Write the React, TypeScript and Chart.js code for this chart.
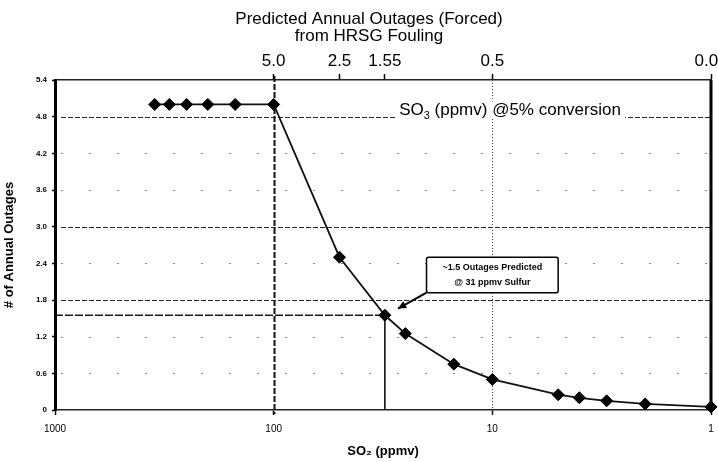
import React, { useEffect, useRef } from "react";
import { Chart, registerables } from "chart.js";

Chart.register(...registerables);

// ---- data ----
const soxPpmv = [350, 300, 250, 200, 150, 100, 50, 31, 25, 15, 10, 5, 4, 3, 2, 1];
const annualOutages = [5.0, 5.0, 5.0, 5.0, 5.0, 5.0, 2.5, 1.55, 1.25, 0.75, 0.5, 0.25, 0.2, 0.15, 0.1, 0.05];

const bottomTickValues = [1000, 100, 10, 1];
const bottomTickLabels = ["1000", "100", "10", "1"];

const topTickValues = [100, 50, 31, 10, 1];
const topTickLabels = ["5.0", "2.5", "1.55", "0.5", "0.05"];

const yTickValues = [0, 0.6, 1.2, 1.8, 2.4, 3.0, 3.6, 4.2, 4.8, 5.4];
const yTickLabels = ["0", "0.6", "1.2", "1.8", "2.4", "3.0", "3.6", "4.2", "4.8", "5.4"];
const strongGridY = [4.8, 3.0, 1.8];

const strongGridX = [100];
const faintGridX = [10];

const highlightPoint = { x: 31, y: 1.55 };

const topTitleLines = ["Predicted Annual Outages (Forced)", "from HRSG Fouling"];
const so3Label = { x: 8.3, y: 4.9 };
const calloutBox = { x1: 20, x2: 5, y1: 2.5, y2: 1.92 };
const calloutTip = { x: 27, y: 1.66 };
const calloutLines = ["~1.5 Outages Predicted", "@ 31 ppmv Sulfur"];

const FONT = "'Liberation Sans', Arial, sans-serif";

const decorPlugin = {
  id: "decor",
  beforeDatasetsDraw(chart: any) {
    const { ctx, chartArea, scales } = chart;
    const { left, right, top, bottom } = chartArea;
    const x = scales.x;
    const y = scales.y;
    ctx.save();
    yTickValues.forEach((v) => {
      if (v === 0 || v === 5.4) return;
      const py = Math.round(y.getPixelForValue(v)) + 0.5;
      ctx.beginPath();
      if (strongGridY.includes(v)) {
        ctx.strokeStyle = "#2a2a2a";
        ctx.lineWidth = 1.2;
        ctx.setLineDash([5, 2]);
      } else {
        ctx.strokeStyle = "#888";
        ctx.lineWidth = 1;
        ctx.setLineDash([2, 26]);
      }
      ctx.moveTo(left + 6, py);
      ctx.lineTo(right, py);
      ctx.stroke();
    });
    strongGridX.forEach((v) => {
      const px = Math.round(x.getPixelForValue(v)) + 0.5;
      ctx.beginPath();
      ctx.strokeStyle = "#111";
      ctx.lineWidth = 2;
      ctx.setLineDash([6, 2]);
      ctx.moveTo(px, top - 4);
      ctx.lineTo(px, bottom + 4);
      ctx.stroke();
    });
    faintGridX.forEach((v) => {
      const px = Math.round(x.getPixelForValue(v)) + 0.5;
      ctx.beginPath();
      ctx.strokeStyle = "#444";
      ctx.lineWidth = 1;
      ctx.setLineDash([1, 2]);
      ctx.moveTo(px, top);
      ctx.lineTo(px, bottom + 4);
      ctx.stroke();
    });
    const hx = x.getPixelForValue(highlightPoint.x);
    const hy = y.getPixelForValue(highlightPoint.y);
    ctx.beginPath();
    ctx.strokeStyle = "#1a1a1a";
    ctx.lineWidth = 1.5;
    ctx.setLineDash([8, 2]);
    ctx.moveTo(left, hy);
    ctx.lineTo(hx, hy);
    ctx.stroke();
    ctx.beginPath();
    ctx.setLineDash([]);
    ctx.lineWidth = 1.5;
    ctx.strokeStyle = "#000";
    ctx.moveTo(hx, hy);
    ctx.lineTo(hx, bottom);
    ctx.stroke();
    ctx.restore();
  },
  afterDatasetsDraw(chart: any) {
    const { ctx, chartArea, scales } = chart;
    const { right, top, bottom } = chartArea;
    const x = scales.x;
    const y = scales.y;
    ctx.save();
    ctx.beginPath();
    ctx.strokeStyle = "#000";
    ctx.lineWidth = 3;
    ctx.moveTo(right, top);
    ctx.lineTo(right, bottom);
    ctx.stroke();

    const cx = x.getPixelForValue(so3Label.x);
    const cy = y.getPixelForValue(so3Label.y);
    const big = `17px ${FONT}`;
    const small = `11px ${FONT}`;
    ctx.font = big;
    const w1 = ctx.measureText("SO").width;
    const w3 = ctx.measureText(" (ppmv) @5% conversion").width;
    ctx.font = small;
    const w2 = ctx.measureText("3").width;
    const total = w1 + w2 + w3;
    const sx = cx - total / 2;
    ctx.fillStyle = "#fff";
    ctx.fillRect(sx - 4, cy - 9, total + 8, 17);
    ctx.fillStyle = "#000";
    ctx.textBaseline = "middle";
    ctx.textAlign = "left";
    ctx.font = big;
    ctx.fillText("SO", sx, cy);
    ctx.font = small;
    ctx.fillText("3", sx + w1, cy + 5);
    ctx.font = big;
    ctx.fillText(" (ppmv) @5% conversion", sx + w1 + w2, cy);

    const bx1 = x.getPixelForValue(calloutBox.x1);
    const bx2 = x.getPixelForValue(calloutBox.x2);
    const by1 = y.getPixelForValue(calloutBox.y1);
    const by2 = y.getPixelForValue(calloutBox.y2);
    const tx = x.getPixelForValue(calloutTip.x);
    const ty = y.getPixelForValue(calloutTip.y);
    ctx.beginPath();
    ctx.strokeStyle = "#000";
    ctx.lineWidth = 2;
    ctx.moveTo(bx1, by2);
    ctx.lineTo(tx, ty);
    ctx.stroke();
    const ang = Math.atan2(ty - by2, tx - bx1);
    ctx.beginPath();
    ctx.fillStyle = "#000";
    ctx.moveTo(tx, ty);
    ctx.lineTo(tx - 9 * Math.cos(ang - 0.45), ty - 9 * Math.sin(ang - 0.45));
    ctx.lineTo(tx - 9 * Math.cos(ang + 0.45), ty - 9 * Math.sin(ang + 0.45));
    ctx.closePath();
    ctx.fill();
    ctx.beginPath();
    ctx.fillStyle = "#fff";
    ctx.strokeStyle = "#000";
    ctx.lineWidth = 1.5;
    const r = 2;
    ctx.moveTo(bx1 + r, by1);
    ctx.lineTo(bx2 - r, by1);
    ctx.quadraticCurveTo(bx2, by1, bx2, by1 + r);
    ctx.lineTo(bx2, by2 - r);
    ctx.quadraticCurveTo(bx2, by2, bx2 - r, by2);
    ctx.lineTo(bx1 + r, by2);
    ctx.quadraticCurveTo(bx1, by2, bx1, by2 - r);
    ctx.lineTo(bx1, by1 + r);
    ctx.quadraticCurveTo(bx1, by1, bx1 + r, by1);
    ctx.closePath();
    ctx.fill();
    ctx.stroke();
    ctx.fillStyle = "#000";
    ctx.font = `bold 9px ${FONT}`;
    ctx.textAlign = "center";
    const bcx = (bx1 + bx2) / 2;
    const bh = by2 - by1;
    calloutLines.forEach((t, i) => {
      ctx.fillText(t, bcx, by1 + bh * (0.3 + 0.4 * i));
    });

    ctx.font = `17px ${FONT}`;
    ctx.textAlign = "center";
    ctx.textBaseline = "middle";
    topTitleLines.forEach((t, i) => {
      ctx.fillText(t, 369, 19 + i * 17);
    });
    ctx.restore();
  },
};

export default function App() {
  const ref = useRef<HTMLCanvasElement | null>(null);

  useEffect(() => {
    if (!ref.current) return;
    const points = soxPpmv.map((v, i) => ({ x: v, y: annualOutages[i] }));
    const chart = new Chart(ref.current, {
      type: "line",
      data: {
        datasets: [
          {
            label: "Annual Outages",
            data: points,
            borderColor: "#111",
            borderWidth: 1.8,
            pointStyle: "rectRot",
            pointRadius: 6,
            pointBackgroundColor: "#000",
            pointBorderColor: "#000",
            pointBorderWidth: 1,
            tension: 0,
            clip: false as any,
          },
        ],
      },
      options: {
        responsive: false,
        animation: false,
        devicePixelRatio: 1,
        layout: { padding: { left: 0, right: 4, top: 0, bottom: 0 } },
        plugins: {
          legend: { display: false },
          tooltip: { enabled: false },
          title: { display: false },
        },
        scales: {
          x: {
            type: "logarithmic",
            position: "bottom",
            min: 1,
            max: 1000,
            reverse: true,
            afterBuildTicks: (s: any) => {
              s.ticks = bottomTickValues.map((v) => ({ value: v }));
            },
            afterFit: (s: any) => {
              s.height = 52;
              s.paddingLeft = 0;
              s.paddingRight = 0;
            },
            ticks: {
              autoSkip: false,
              maxRotation: 0,
              padding: 8,
              color: "#000",
              font: { size: 10, family: FONT },
              callback: (_v: any, i: number) => bottomTickLabels[i],
            },
            grid: { drawOnChartArea: false, drawTicks: true, tickLength: 5, tickColor: "#000", tickWidth: 1.5 },
            border: { display: true, color: "#222", width: 1.5 },
            title: {
              display: true,
              text: "SO\u2082 (ppmv)",
              color: "#000",
              font: { size: 13, weight: "bold", family: FONT },
              padding: { top: 0, bottom: 3 },
            },
          },
          x2: {
            type: "logarithmic",
            axis: "x",
            position: "top",
            min: 1,
            max: 1000,
            reverse: true,
            afterBuildTicks: (s: any) => {
              s.ticks = topTickValues.map((v) => ({ value: v }));
            },
            afterFit: (s: any) => {
              s.height = 80;
              s.paddingLeft = 0;
              s.paddingRight = 0;
            },
            ticks: {
              autoSkip: false,
              maxRotation: 0,
              padding: 2,
              color: "#000",
              font: { size: 17, family: FONT },
              callback: (_v: any, i: number) => topTickLabels[i],
            },
            grid: { drawOnChartArea: false, drawTicks: true, tickLength: 6, tickColor: "#000", tickWidth: 1.5 },
            border: { display: true, color: "#222", width: 1.5 },
          },
          y: {
            type: "linear",
            position: "left",
            min: 0,
            max: 5.4,
            afterBuildTicks: (s: any) => {
              s.ticks = yTickValues.map((v) => ({ value: v }));
            },
            afterFit: (s: any) => {
              s.width = 55;
              s.paddingTop = 0;
              s.paddingBottom = 0;
            },
            ticks: {
              padding: 5,
              color: "#000",
              font: { size: 8, weight: "bold", family: FONT },
              callback: (_v: any, i: number) => yTickLabels[i],
            },
            grid: { drawOnChartArea: false, drawTicks: true, tickLength: 3, tickColor: "#000", tickWidth: 1.5 },
            border: { display: true, color: "#000", width: 3 },
            title: {
              display: true,
              text: "# of Annual Outages",
              color: "#000",
              font: { size: 13, weight: "bold", family: FONT },
              padding: { top: 2, bottom: 0 },
            },
          },
        },
      } as any,
      plugins: [decorPlugin],
    });
    return () => chart.destroy();
  }, []);

  return (
    <div style={{ position: "fixed", left: 0, top: 0, width: 718, height: 462, background: "#fff" }}>
      <canvas ref={ref} width={718} height={462} style={{ display: "block", width: 718, height: 462 }} />
    </div>
  );
}
